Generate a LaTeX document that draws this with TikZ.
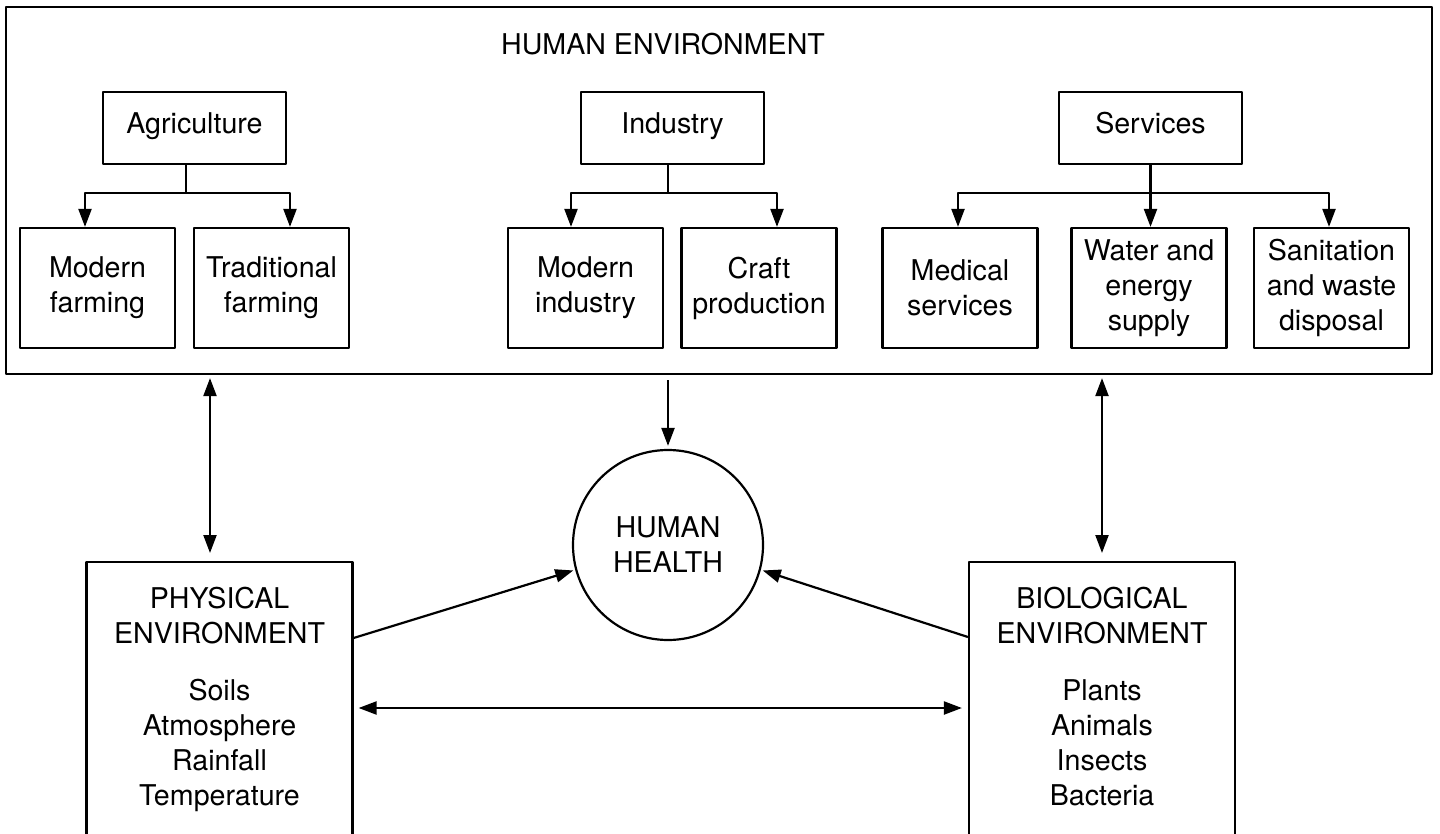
\documentclass[tikz,border=0pt]{standalone}
\usepackage{fontspec}
\setmainfont{TeX Gyre Heros}
\usetikzlibrary{arrows.meta}

\tikzset{
  box/.style={draw, line width=1.1pt, align=center, inner sep=1pt},
  head/.style={box, minimum width=91.5pt, minimum height=36pt, text height=0.75em, text depth=0.22em},
  leaf/.style={box, minimum width=77.5pt, minimum height=60pt},
  envbox/.style={draw, line width=1.1pt, anchor=north, minimum width=133pt, minimum height=150pt},
  envtext/.style={anchor=north, align=center, inner sep=0pt},
  link/.style={line width=1.1pt, -{Triangle[length=9pt,width=6.5pt]}},
  both/.style={line width=1.1pt, {Triangle[length=9pt,width=6.5pt]}-{Triangle[length=9pt,width=6.5pt]}},
}

\begin{document}
\begin{tikzpicture}[x=0.5pt,y=-0.5pt,line join=round,font=\fontsize{14.3}{17.5}\selectfont]
            \useasboundingbox (0,0) rectangle (1440,834);
            % human environment
            \node[draw,line width=1.1pt,minimum width=713pt,minimum height=183.5pt] (humanenv) at (719,190.5) {};
            \node[anchor=base] (humantitle) at (663,55) {HUMAN ENVIRONMENT};
            \node[head] (agri) at (194.5,128) {Agriculture};
            \node[head] (ind) at (672.5,128) {Industry};
            \node[head] (serv) at (1150.5,128) {Services};
            \node[leaf] (mfarm) at (97.5,288) {Modern\\farming};
            \node[leaf] (tfarm) at (271.5,288) {Traditional\\farming};
            \node[leaf] (mind) at (585.5,288) {Modern\\industry};
            \node[leaf] (craft) at (759,288) {Craft\\production};
            \node[leaf] (med) at (960,288) {Medical\\services};
            \node[leaf] (water) at (1149,288) {Water and\\energy\\supply};
            \node[leaf] (sanit) at (1331.5,288) {Sanitation\\and waste\\disposal};
            \draw[line width=1.1pt] ([xshift=-4.25pt]agri.south) -- ++(0,28) coordinate (agrij);
            \draw[link] (agrij) -| ([xshift=-6.25pt]mfarm.north);
            \draw[link] (agrij) -| ([xshift=9.25pt]tfarm.north);
            \draw[line width=1.1pt] ([xshift=-2.25pt]ind.south) -- ++(0,28) coordinate (indj);
            \draw[link] (indj) -| ([xshift=-7.25pt]mind.north);
            \draw[link] (indj) -| ([xshift=9pt]craft.north);
            \draw[line width=1.1pt] (serv.south) -- ++(0,28) coordinate (servj);
            \draw[link] (servj) -- (servj |- water.north);
            \draw[link] (servj) -| ([xshift=-1pt]med.north);
            \draw[link] (servj) -| ([xshift=-1.25pt]sanit.north);
            % health and the two environments
            \node[draw,circle,line width=1.1pt,minimum size=95pt,inner sep=0pt,align=center] (health) at (668,545) {HUMAN\\HEALTH};
            \node[envbox] (phys) at (219.5,561) {};
            \node[envtext] (physlabel) at ([yshift=-13pt]phys.north) {PHYSICAL\\ENVIRONMENT\\[11pt]Soils\\Atmosphere\\Rainfall\\Temperature};
            \node[envbox] (bio) at (1102,561) {};
            \node[envtext] (biolabel) at ([yshift=-13pt]bio.north) {BIOLOGICAL\\ENVIRONMENT\\[11pt]Plants\\Animals\\Insects\\Bacteria};
            \draw[link,shorten <=2.5pt,shorten >=1.5pt] (humanenv.south -| health.north) -- (health.north);
            \draw[both,shorten <=1.5pt,shorten >=4pt] ([xshift=-4.75pt]phys.north |- humanenv.south) -- ([xshift=-4.75pt]phys.north);
            \draw[both,shorten <=1.5pt,shorten >=4pt] (bio.north |- humanenv.south) -- (bio.north);
            \draw[link,shorten >=1pt] ([yshift=-38.5pt]phys.north east) -- (health.195);
            \draw[link,shorten >=1pt] ([yshift=-38pt]bio.north west) -- (health.345);
            \draw[both,shorten <=2.5pt,shorten >=3pt] ([yshift=-73.5pt]phys.north east) -- ([yshift=-73.5pt]bio.north west);
        \end{tikzpicture}
\end{document}
